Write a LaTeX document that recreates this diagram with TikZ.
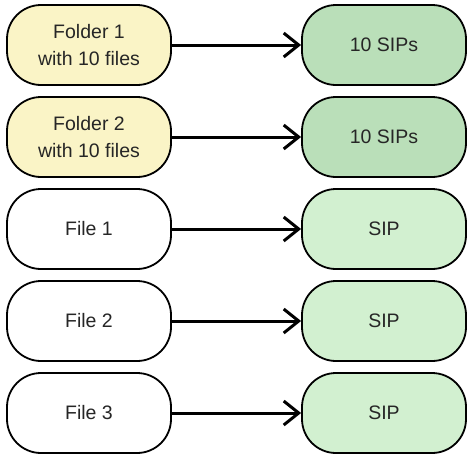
\documentclass[tikz,border=0pt]{standalone}
\usepackage{fontspec}
\setmainfont{Liberation Sans}
\usetikzlibrary{arrows.meta}
\definecolor{folderfill}{HTML}{FAF4C6}
\definecolor{setfill}{HTML}{BADFB9}
\definecolor{sipfill}{HTML}{D2F0D0}
\tikzset{
  box/.style={draw=black, line width=1.8pt, rounded corners=34pt,
    minimum width=164pt, minimum height=80pt, inner sep=0pt,
    align=center, font=\fontsize{19.5}{27}\selectfont, text=black!85},
  src/.style={box, fill=white},
  folder/.style={box, fill=folderfill},
  sipset/.style={box, fill=setfill},
  sip/.style={box, fill=sipfill},
  flow/.style={line width=3pt, -{Straight Barb[length=15pt,width=24pt]}}
}
\begin{document}
\begin{tikzpicture}[x=1pt,y=-1pt]
  \useasboundingbox (0,0) rectangle (470,461);
  \node[folder] (f1) at (89,45)  {Folder 1\\with 10 files};
  \node[folder] (f2) at (89,137) {Folder 2\\with 10 files};
  \node[src]    (a1) at (89,229) {File 1};
  \node[src]    (a2) at (89,321) {File 2};
  \node[src]    (a3) at (89,413) {File 3};
  \node[sipset] (s1) at (384,45)  {10 SIPs};
  \node[sipset] (s2) at (384,137) {10 SIPs};
  \node[sip]    (p1) at (384,229) {SIP};
  \node[sip]    (p2) at (384,321) {SIP};
  \node[sip]    (p3) at (384,413) {SIP};
  \draw[flow] (f1) -- (s1);
  \draw[flow] (f2) -- (s2);
  \draw[flow] (a1) -- (p1);
  \draw[flow] (a2) -- (p2);
  \draw[flow] (a3) -- (p3);
\end{tikzpicture}
\end{document}
